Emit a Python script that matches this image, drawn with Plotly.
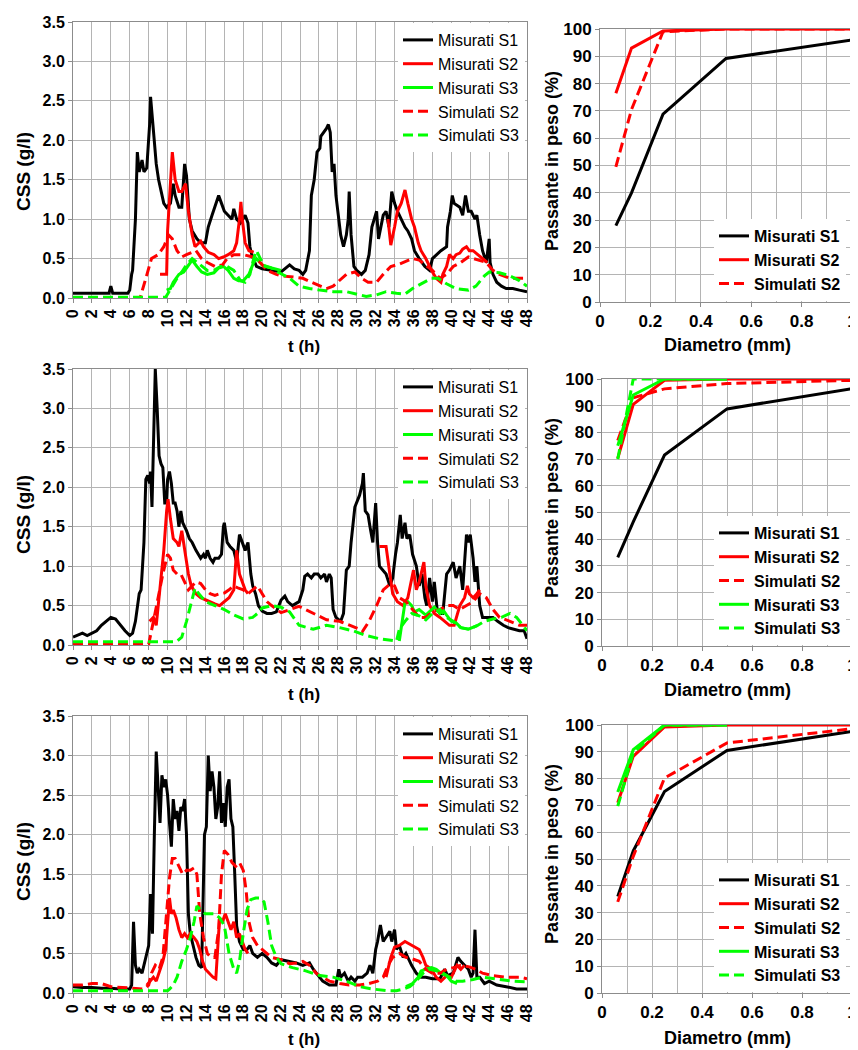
import plotly.graph_objects as go

# ---------------- DATA ----------------
# Event 1 (top row): (t [h], CSS [g/l])
E1_MIS_S1 = [(0,0.06),(3.8,0.06),(4.0,0.15),(4.2,0.06),(5.8,0.06),(6.0,0.1),(6.2,0.3),(6.3,0.35),(6.6,1.0),(6.8,1.85),(7.0,1.6),(7.3,1.75),(7.5,1.6),(7.8,1.65),(8.1,2.2),(8.2,2.55),(8.45,2.2),(8.6,2.0),(8.8,1.7),(9.05,1.5),(9.4,1.3),(9.6,1.2),(9.9,1.15),(10.3,1.2),(10.6,1.45),(10.8,1.3),(11.2,1.15),(11.5,1.15),(11.8,1.7),(12.0,1.55),(12.3,1.0),(12.6,0.85),(13.1,0.75),(13.5,0.7),(14.0,0.7),(14.3,0.9),(14.7,1.05),(15.0,1.15),(15.4,1.3),(15.7,1.2),(16.0,1.1),(16.4,1.05),(16.8,1.0),(17.0,1.13),(17.3,1.0),(17.7,0.95),(18.2,1.05),(18.5,0.95),(18.7,0.65),(18.9,0.55),(19.2,0.45),(19.4,0.4),(20,0.37),(21,0.35),(22,0.33),(22.9,0.42),(23.4,0.37),(23.9,0.35),(24.3,0.3),(24.6,0.35),(25.0,0.6),(25.2,1.3),(25.5,1.5),(25.8,1.85),(26.1,1.9),(26.2,2.05),(26.5,2.1),(26.8,2.15),(27.0,2.2),(27.2,2.1),(27.4,1.6),(27.6,1.7),(27.8,1.3),(28.1,1.0),(28.3,0.8),(28.6,0.65),(28.9,0.8),(29.1,1.0),(29.2,1.35),(29.4,0.8),(29.7,0.4),(30.0,0.35),(30.5,0.3),(30.9,0.35),(31.3,0.55),(31.6,0.9),(32.1,1.1),(32.3,0.75),(32.6,0.95),(32.8,1.05),(33.1,1.1),(33.4,0.9),(33.7,1.35),(34.0,1.2),(34.3,1.1),(34.7,1.0),(35.1,0.9),(35.4,0.85),(35.8,0.75),(36.1,0.6),(36.6,0.5),(37.2,0.4),(37.7,0.35),(38.0,0.5),(38.4,0.55),(38.9,0.6),(39.5,0.65),(39.6,0.9),(39.9,1.1),(40.1,1.3),(40.3,1.2),(40.9,1.15),(41.2,1.05),(41.5,1.3),(41.8,1.1),(42.1,1.1),(42.5,1.0),(42.7,1.05),(43.0,0.8),(43.3,0.6),(43.7,0.45),(44.0,0.75),(44.1,0.45),(44.4,0.3),(44.8,0.2),(45.3,0.15),(45.8,0.12),(46.5,0.12),(47.2,0.1),(48,0.08)]
E1_MIS_S2 = [(9.2,0.3),(9.9,0.3),(10.0,0.85),(10.3,1.4),(10.5,1.85),(10.8,1.5),(11.2,1.35),(11.5,1.35),(11.9,1.45),(12.2,1.1),(12.6,0.8),(12.9,0.65),(13.5,0.72),(13.8,0.65),(14.3,0.58),(14.9,0.55),(15.4,0.5),(15.9,0.52),(16.4,0.55),(17.0,0.6),(17.3,0.7),(17.6,1.0),(17.75,1.22),(17.9,1.0),(18.2,0.7),(18.6,0.6),(19.1,0.58),(None,None),(33.3,1.0),(33.6,0.67),(34.0,0.9),(34.3,1.1),(34.7,1.2),(35.1,1.37),(35.4,1.2),(35.8,1.0),(36.1,0.9),(36.5,0.7),(36.8,0.6),(37.3,0.5),(37.9,0.35),(38.4,0.25),(38.9,0.2),(39.1,0.3),(39.5,0.4),(39.8,0.55),(40.2,0.5),(40.5,0.55),(40.9,0.57),(41.2,0.62),(41.6,0.65),(41.9,0.6),(42.3,0.6),(42.8,0.55),(43.3,0.5),(43.8,0.45)]
E1_MIS_S3 = [(9.9,0.1),(10.3,0.12),(10.6,0.2),(11.2,0.3),(11.7,0.33),(12.2,0.42),(12.6,0.48),(13.1,0.4),(13.6,0.33),(14.2,0.3),(14.9,0.32),(15.4,0.38),(15.9,0.4),(16.4,0.35),(17.0,0.25),(17.5,0.22),(18.0,0.22),(18.6,0.3),(19.1,0.45),(19.4,0.5),(20.0,0.42),(21.0,0.38),(22.0,0.35)]
E1_SIM_S2 = [(0,0.0),(7.1,0.0),(7.7,0.25),(8.3,0.5),(9.0,0.55),(9.6,0.65),(10.1,0.8),(10.5,0.75),(11.0,0.6),(11.5,0.52),(12.0,0.55),(12.5,0.58),(13.0,0.6),(13.6,0.5),(14.2,0.45),(15.0,0.4),(15.8,0.42),(16.3,0.5),(17.0,0.55),(18.0,0.55),(19.0,0.52),(19.8,0.45),(20.5,0.35),(21.5,0.3),(22,0.28),(23,0.27),(24.3,0.25),(25.2,0.2),(26.1,0.15),(26.8,0.12),(27.5,0.15),(28.2,0.22),(28.9,0.3),(29.8,0.33),(30.5,0.25),(31.2,0.2),(32.1,0.2),(32.8,0.3),(33.6,0.4),(34.5,0.43),(35.4,0.48),(35.9,0.5),(36.6,0.48),(37.3,0.42),(38.0,0.35),(38.8,0.25),(39.5,0.3),(40.2,0.4),(41.0,0.45),(41.8,0.52),(42.3,0.5),(43.0,0.47),(43.7,0.45),(44.4,0.35),(45.1,0.3),(46.2,0.25),(47.2,0.25),(48,0.25)]
E1_SIM_S3 = [(0,0.01),(9.8,0.01),(10.5,0.15),(11.0,0.25),(11.5,0.33),(12.0,0.42),(12.6,0.5),(13.1,0.45),(13.6,0.4),(14.2,0.35),(14.9,0.35),(15.6,0.4),(16.3,0.4),(17.0,0.35),(17.7,0.22),(18.2,0.2),(18.7,0.3),(19.1,0.5),(19.4,0.6),(19.8,0.5),(20.3,0.4),(21.0,0.38),(21.8,0.32),(22.9,0.25),(23.9,0.15),(25.0,0.12),(26.1,0.1),(27.5,0.08),(28.9,0.08),(29.9,0.05),(31.0,0.02),(32.1,0.04),(33.1,0.08),(34.2,0.06),(35.1,0.05),(35.9,0.12),(36.8,0.18),(37.9,0.25),(38.6,0.25),(39.5,0.18),(40.5,0.12),(41.8,0.1),(42.6,0.15),(43.5,0.28),(44.0,0.33),(45.1,0.32),(46.2,0.28),(47.2,0.22),(48,0.15)]

# Event 2 (middle row)
E2_MIS_S1 = [(0,0.1),(0.5,0.13),(1,0.15),(1.5,0.12),(2,0.15),(2.5,0.18),(3,0.25),(3.5,0.3),(4,0.35),(4.5,0.33),(5,0.25),(5.5,0.18),(6,0.12),(6.3,0.15),(6.6,0.3),(7,0.65),(7.2,0.7),(7.5,1.3),(7.7,2.1),(7.9,2.15),(8.1,2.05),(8.2,2.2),(8.35,1.75),(8.5,2.5),(8.7,3.5),(8.9,3.0),(9.1,2.4),(9.3,2.3),(9.5,2.25),(9.7,1.8),(9.9,1.8),(10.0,2.1),(10.2,2.2),(10.4,2.05),(10.6,1.8),(10.8,1.8),(11.0,1.7),(11.2,1.5),(11.4,1.7),(11.6,1.55),(11.8,1.5),(12.0,1.45),(12.3,1.35),(12.6,1.3),(13.0,1.2),(13.5,1.1),(13.8,1.15),(14.0,1.1),(14.2,1.2),(14.5,1.1),(14.8,1.05),(15.0,1.1),(15.4,1.1),(15.7,1.15),(15.9,1.5),(16.0,1.55),(16.3,1.3),(16.6,1.25),(17.0,1.2),(17.3,1.05),(17.6,1.4),(17.9,1.3),(18.2,1.2),(18.5,1.3),(18.8,0.9),(19.0,0.75),(19.3,0.65),(19.6,0.5),(20,0.43),(20.5,0.4),(21,0.4),(21.5,0.42),(22,0.57),(22.4,0.62),(22.7,0.55),(23.2,0.5),(23.9,0.55),(24.3,0.7),(24.5,0.87),(24.8,0.9),(25.2,0.85),(25.5,0.9),(25.9,0.9),(26.2,0.85),(26.6,0.9),(26.8,0.8),(27.1,0.9),(27.3,0.85),(27.5,0.45),(27.8,0.35),(28.3,0.3),(28.6,0.4),(28.9,0.95),(29.2,1.0),(29.4,1.3),(29.8,1.75),(30.3,1.9),(30.6,2.05),(30.7,2.18),(30.9,1.7),(31.2,1.65),(31.4,1.5),(31.7,1.3),(32.0,1.8),(32.2,1.3),(32.4,1.0),(32.8,0.95),(33.1,0.9),(33.5,0.75),(33.8,0.85),(34.1,1.15),(34.3,1.3),(34.6,1.65),(34.8,1.35),(35.1,1.55),(35.3,1.35),(35.6,1.4),(35.9,1.15),(36.3,1.0),(36.6,0.75),(36.9,0.9),(37.2,0.6),(37.4,0.5),(37.7,0.85),(38.0,0.55),(38.2,0.8),(38.5,0.45),(38.8,0.4),(39.1,0.4),(39.5,0.9),(39.8,0.95),(40.2,1.05),(40.5,0.85),(40.9,1.0),(41.2,0.7),(41.4,1.0),(41.6,1.4),(41.8,1.3),(42.0,1.4),(42.3,1.1),(42.5,0.8),(42.7,1.0),(43.0,0.5),(43.3,0.35),(43.9,0.35),(44.4,0.35),(44.9,0.3),(45.5,0.25),(46.0,0.22),(46.5,0.2),(47.2,0.18),(47.7,0.18),(48,0.08)]
E2_MIS_S2 = [(8.1,0.3),(8.5,0.35),(8.8,0.25),(9.0,0.5),(9.3,0.8),(9.6,1.2),(9.9,1.7),(10.05,1.85),(10.3,1.6),(10.6,1.35),(11.0,1.3),(11.2,1.25),(11.5,1.45),(11.8,1.2),(12.2,0.9),(12.5,0.75),(13,0.65),(13.5,0.6),(14,0.57),(14.5,0.55),(15,0.52),(15.5,0.5),(16,0.55),(16.5,0.6),(17.0,0.7),(17.3,1.2),(17.6,0.9),(17.9,0.8),(18.2,0.7),(18.5,0.65),(None,None),(32.4,1.25),(33.1,1.25),(33.5,0.9),(33.8,0.65),(34.3,0.55),(34.9,0.5),(35.4,0.6),(35.8,0.85),(36.0,0.95),(36.3,0.7),(36.6,0.8),(37.1,1.05),(37.3,0.75),(37.7,0.5),(38.2,0.4),(38.8,0.35),(39.3,0.3),(39.8,0.25),(40.3,0.25),(40.9,0.5),(41.4,0.6),(41.7,0.75),(41.9,0.65),(42.3,0.6),(42.7,0.65),(43.0,0.7)]
E2_MIS_S3 = [(34.5,0.05),(35.1,0.54),(35.4,0.55),(35.8,0.5),(36.1,0.42),(36.6,0.45),(37.3,0.38),(37.9,0.45),(38.2,0.48),(38.8,0.4),(39.1,0.45),(39.5,0.38),(40.0,0.3),(40.5,0.28),(41.0,0.22),(41.8,0.2),(42.3,0.22),(42.8,0.25)]
E2_SIM_S2 = [(0,0.01),(8.0,0.01),(8.5,0.3),(9.0,0.6),(9.5,0.9),(10.0,1.15),(10.3,1.1),(10.6,0.95),(11,0.9),(11.4,0.9),(11.8,0.8),(12.2,0.7),(12.6,0.75),(13,0.8),(13.5,0.78),(14,0.7),(14.5,0.65),(15,0.63),(15.5,0.65),(16,0.66),(16.5,0.7),(17,0.75),(17.5,0.72),(18,0.7),(18.5,0.65),(19,0.7),(19.5,0.75),(20,0.65),(20.5,0.55),(21,0.5),(22,0.41),(23.9,0.49),(25.4,0.4),(26.8,0.32),(28.2,0.3),(29.2,0.25),(30.3,0.2),(30.6,0.17),(31.3,0.3),(32.1,0.5),(32.8,0.7),(33.5,0.77),(34.0,0.75),(34.5,0.6),(35.2,0.55),(35.9,0.45),(36.6,0.35),(37.3,0.35),(38.0,0.42),(38.8,0.45),(39.5,0.5),(40.2,0.5),(40.9,0.45),(41.6,0.5),(42.3,0.55),(43.0,0.65),(43.7,0.6),(44.4,0.45),(45.1,0.35),(46.2,0.3),(47.2,0.25),(48,0.25)]
E2_SIM_S3 = [(0,0.04),(10.8,0.04),(11.0,0.05),(11.5,0.1),(12.0,0.3),(12.5,0.55),(12.9,0.72),(13.3,0.65),(14,0.55),(15,0.5),(16,0.45),(17,0.38),(18,0.33),(19,0.35),(19.5,0.4),(20,0.47),(21,0.5),(22,0.48),(22.9,0.42),(23.9,0.25),(25.4,0.2),(26.8,0.25),(28.2,0.22),(29.6,0.18),(31.0,0.12),(32.4,0.08),(33.8,0.06),(34.2,0.05),(34.5,0.2),(35.1,0.3),(35.8,0.4),(36.6,0.37),(37.3,0.32),(38.0,0.4),(38.8,0.45),(39.5,0.35),(40.2,0.3),(41.0,0.22),(41.9,0.2),(42.8,0.25),(43.5,0.3),(44.4,0.33),(45.3,0.35),(46.2,0.4),(46.9,0.35),(48,0.18)]

# Event 3 (bottom row)
E3_MIS_S1 = [(0,0.08),(1,0.07),(2,0.07),(3,0.06),(4,0.06),(5,0.05),(6,0.05),(6.2,0.1),(6.4,0.9),(6.6,0.35),(6.8,0.25),(7.0,0.3),(7.3,0.25),(7.6,0.4),(8.0,0.6),(8.2,1.25),(8.4,0.75),(8.6,2.0),(8.8,3.05),(9.0,2.6),(9.2,2.15),(9.4,2.75),(9.6,2.6),(9.8,2.7),(10.0,2.5),(10.2,2.15),(10.4,1.85),(10.6,2.45),(10.8,2.2),(11.0,2.3),(11.2,2.05),(11.4,2.35),(11.6,2.3),(11.8,2.45),(12.0,2.0),(12.2,1.0),(12.4,0.75),(12.7,0.6),(13,0.45),(13.3,0.35),(13.6,0.32),(13.9,2.0),(14.1,2.1),(14.3,3.0),(14.5,2.55),(14.7,2.8),(14.9,2.6),(15.1,2.2),(15.3,2.35),(15.5,2.8),(15.7,2.15),(15.9,2.4),(16.1,2.1),(16.3,2.6),(16.5,2.7),(16.7,2.2),(16.9,2.1),(17.1,1.5),(17.3,0.85),(17.6,0.65),(18,0.55),(18.4,0.55),(18.7,0.6),(19,0.5),(19.5,0.45),(20,0.5),(20.5,0.45),(21,0.38),(21.5,0.35),(22,0.42),(22.9,0.4),(23.6,0.38),(24.3,0.35),(25.0,0.38),(25.4,0.3),(25.9,0.22),(26.4,0.15),(27.1,0.1),(27.8,0.1),(28.1,0.3),(28.3,0.2),(28.7,0.25),(29.1,0.15),(29.4,0.2),(29.8,0.15),(30.1,0.2),(30.6,0.2),(31.1,0.25),(31.4,0.35),(31.7,0.25),(32.0,0.55),(32.2,0.65),(32.5,0.86),(32.8,0.65),(33.1,0.7),(33.5,0.78),(33.7,0.65),(34.0,0.8),(34.2,0.55),(34.5,0.6),(34.9,0.45),(35.2,0.5),(35.8,0.35),(36.3,0.25),(36.8,0.2),(37.3,0.2),(38.0,0.18),(38.8,0.18),(39.3,0.3),(39.6,0.22),(40.2,0.25),(40.7,0.45),(41.0,0.4),(41.4,0.35),(41.8,0.3),(42.1,0.2),(42.3,0.25),(42.5,0.8),(42.7,0.2),(43.0,0.2),(43.5,0.12),(44.0,0.15),(44.8,0.1),(45.8,0.08),(46.9,0.05),(48,0.05)]
E3_MIS_S2 = [(7.8,0.1),(8.2,0.15),(8.5,0.2),(8.8,0.15),(9.2,0.3),(9.5,0.4),(9.8,0.55),(10.0,0.85),(10.2,1.2),(10.4,1.0),(10.6,1.05),(10.9,0.95),(11.2,0.8),(11.5,0.7),(11.8,0.75),(12.1,0.7),(12.4,0.75),(12.8,0.7),(13.1,0.65),(13.4,0.55),(13.7,0.4),(14.0,0.3),(14.4,0.25),(14.8,0.2),(15.1,0.18),(15.3,0.6),(15.5,0.95),(15.8,0.9),(16.1,1.0),(16.4,0.9),(16.7,0.8),(17.0,0.9),(17.3,0.7),(17.6,0.75),(17.9,0.65),(18.2,0.55),(18.5,0.5),(None,None),(33.1,0.2),(33.6,0.45),(34.0,0.58),(34.5,0.6),(35.1,0.65),(35.6,0.62),(36.1,0.58),(36.6,0.55),(37.0,0.45),(37.3,0.35),(37.9,0.3),(38.4,0.2),(38.9,0.15),(39.5,0.22),(40.0,0.2),(40.6,0.35),(41.0,0.3),(41.4,0.35)]
E3_MIS_S3 = [(35.2,0.08),(35.9,0.12),(36.5,0.2),(36.8,0.28),(37.3,0.3),(37.9,0.32),(38.4,0.3),(38.9,0.25),(39.5,0.22),(40.0,0.15),(40.6,0.12)]
E3_SIM_S2 = [(0,0.1),(1,0.1),(2,0.12),(3,0.12),(4,0.08),(5,0.07),(6,0.06),(7,0.05),(7.5,0.05),(8,0.1),(8.3,0.25),(8.7,0.35),(9.1,0.3),(9.5,0.45),(9.9,1.0),(10.2,1.45),(10.5,1.7),(10.8,1.7),(11.2,1.6),(11.6,1.5),(12,1.55),(12.4,1.55),(12.8,1.58),(13.1,1.5),(13.4,1.0),(13.8,0.7),(14.2,0.5),(14.6,0.45),(15.0,0.45),(15.4,0.8),(15.7,1.5),(16.0,1.8),(16.4,1.75),(16.8,1.65),(17.2,1.6),(17.6,1.65),(18.0,1.55),(18.3,1.3),(18.6,0.9),(19,0.7),(19.5,0.6),(20,0.55),(21,0.45),(22,0.42),(22.9,0.37),(23.6,0.38),(24.3,0.4),(25.0,0.35),(25.7,0.25),(26.4,0.2),(27.1,0.15),(28.2,0.12),(29.2,0.1),(30.3,0.1),(31.3,0.12),(32.2,0.15),(32.8,0.2),(33.3,0.35),(33.8,0.45),(34.5,0.5),(35.2,0.45),(35.9,0.43),(36.6,0.4),(37.3,0.3),(38.0,0.25),(38.8,0.25),(39.5,0.3),(40.2,0.32),(41.0,0.35),(41.9,0.33),(42.6,0.3),(43.3,0.25),(44.4,0.22),(45.8,0.2),(47.2,0.2),(48,0.18)]
E3_SIM_S3 = [(0,0.03),(10.0,0.03),(10.2,0.05),(10.6,0.1),(11,0.2),(11.5,0.4),(12.0,0.55),(12.4,0.7),(12.8,0.9),(13.1,1.1),(13.5,1.05),(14,1.0),(14.5,1.0),(15,1.0),(15.5,0.95),(16,0.85),(16.5,0.5),(17,0.3),(17.3,0.25),(17.6,0.4),(18,0.75),(18.4,1.05),(18.8,1.18),(19.3,1.2),(19.8,1.2),(20.2,1.15),(20.6,0.9),(21,0.6),(21.5,0.45),(22,0.37),(23.2,0.32),(24.6,0.28),(26.1,0.22),(27.5,0.2),(28.9,0.15),(30.3,0.08),(31.7,0.05),(33.1,0.03),(34.2,0.03),(34.9,0.05),(35.6,0.08),(36.3,0.15),(37.0,0.25),(37.7,0.3),(38.4,0.28),(39.1,0.25),(39.8,0.2),(40.5,0.15),(41.2,0.15),(42.3,0.17),(43.3,0.2),(44.8,0.18),(46.5,0.15),(48,0.14)]

# Grain size curves: diameter (mm) and passing (%)
DIAM = [0.063, 0.125, 0.25, 0.5, 1.0]
G1_MIS_S1 = [28, 40, 68.8, 89.2, 96]
G1_MIS_S2 = [76.5, 93, 99.3, 100, 100]
G1_SIM_S2 = [49.5, 70.5, 99, 100, 100]

G2_MIS_S1 = [33.2, 46.5, 71.5, 88.8, 96.4]
G2_MIS_S2 = [70.3, 90.5, 99.5, 100, 100]
G2_SIM_S2 = [77, 93, 96.3, 98.3, 99.5]
G2_MIS_S3 = [75, 94, 100, 100]
G2_SIM_S3 = [70, 100, 100, 100]

G3_MIS_S1 = [36, 53, 75.2, 90.5, 97.6]
G3_MIS_S2 = [71, 88.3, 99.3, 100, 100]
G3_SIM_S2 = [34, 51, 80.2, 93.3, 98.6]
G3_MIS_S3 = [75, 90.8, 100, 100]
G3_SIM_S3 = [69.7, 89.6, 100, 100]

T_TICKS = list(range(0, 49, 2))

# ---------------- STYLE ----------------
# the page body adds an 8px offset; the figure is sized to fill the rest of the window
OFF = 8
W, H = 858 - OFF, 1050 - OFF
BLACK, RED, GREEN = "#000000", "#ff0000", "#00ff00"
GRID = "#b4b4b4"
AXC = "#8c8c8c"
FONT = "Liberation Sans"
DASH = "10px,5px"
LW = 3


def fx(p):
    # p: pixel position in the window screenshot
    return (p - OFF) / W


def fy(p):
    return 1 - (p - OFF) / H


def unzip(pairs):
    return [p[0] for p in pairs], [p[1] for p in pairs]


fig = go.Figure()

# pixel boxes of each panel in window pixels (left, right, top, bottom)
LEFT_BOX = [(73, 527, 22, 298), (73, 527, 369, 645), (73, 527, 716, 993)]
RIGHT_BOX = [(600, 852, 29, 302), (602, 852, 379, 646), (602, 852, 725, 993)]

events = [
    [("Misurati S1", E1_MIS_S1, BLACK, "solid"), ("Misurati S2", E1_MIS_S2, RED, "solid"),
     ("Misurati S3", E1_MIS_S3, GREEN, "solid"), ("Simulati S2", E1_SIM_S2, RED, DASH),
     ("Simulati S3", E1_SIM_S3, GREEN, DASH)],
    [("Misurati S1", E2_MIS_S1, BLACK, "solid"), ("Misurati S2", E2_MIS_S2, RED, "solid"),
     ("Misurati S3", E2_MIS_S3, GREEN, "solid"), ("Simulati S2", E2_SIM_S2, RED, DASH),
     ("Simulati S3", E2_SIM_S3, GREEN, DASH)],
    [("Misurati S1", E3_MIS_S1, BLACK, "solid"), ("Misurati S2", E3_MIS_S2, RED, "solid"),
     ("Misurati S3", E3_MIS_S3, GREEN, "solid"), ("Simulati S2", E3_SIM_S2, RED, DASH),
     ("Simulati S3", E3_SIM_S3, GREEN, DASH)],
]

grains = [
    [("Misurati S1", G1_MIS_S1, BLACK, "solid"), ("Misurati S2", G1_MIS_S2, RED, "solid"),
     ("Simulati S2", G1_SIM_S2, RED, DASH)],
    [("Misurati S1", G2_MIS_S1, BLACK, "solid"), ("Misurati S2", G2_MIS_S2, RED, "solid"),
     ("Simulati S2", G2_SIM_S2, RED, DASH), ("Misurati S3", G2_MIS_S3, GREEN, "solid"),
     ("Simulati S3", G2_SIM_S3, GREEN, DASH)],
    [("Misurati S1", G3_MIS_S1, BLACK, "solid"), ("Misurati S2", G3_MIS_S2, RED, "solid"),
     ("Simulati S2", G3_SIM_S2, RED, DASH), ("Misurati S3", G3_MIS_S3, GREEN, "solid"),
     ("Simulati S3", G3_SIM_S3, GREEN, DASH)],
]

layout = dict(
    width=W, height=H, margin=dict(l=0, r=0, t=0, b=0, autoexpand=False),
    paper_bgcolor="white", plot_bgcolor="white",
    font=dict(family=FONT, color="black"),
    showlegend=True, annotations=[],
)

tick_font_l = dict(family=FONT, size=16, color="black", weight="bold")
tick_font_r = dict(family=FONT, size=17, color="black", weight="bold")
title_font = dict(family=FONT, size=18, color="black", weight="bold")

legend_right_bottom = [301, 645, 992]

for r in range(3):
    nl = 2 * r + 1
    nr = 2 * r + 2
    xl = "x" if nl == 1 else f"x{nl}"
    yl = "y" if nl == 1 else f"y{nl}"
    xr, yr = f"x{nr}", f"y{nr}"
    leg_l = "legend" if nl == 1 else f"legend{nl}"
    leg_r = f"legend{nr}"

    for name, pairs, col, dash in events[r]:
        t, v = unzip(pairs)
        fig.add_trace(go.Scatter(x=t, y=v, mode="lines", name=name, xaxis=xl, yaxis=yl,
                                 legend=leg_l, connectgaps=False,
                                 line=dict(color=col, width=LW, dash=dash)))
    for name, vals, col, dash in grains[r]:
        fig.add_trace(go.Scatter(x=DIAM[:len(vals)], y=vals, mode="lines", name=name,
                                 xaxis=xr, yaxis=yr, legend=leg_r,
                                 line=dict(color=col, width=LW, dash=dash)))

    L, R, T, B = LEFT_BOX[r]
    axl = "xaxis" if nl == 1 else f"xaxis{nl}"
    ayl = "yaxis" if nl == 1 else f"yaxis{nl}"
    common = dict(showgrid=True, gridcolor=GRID, gridwidth=1, showline=True, linecolor=AXC,
                  linewidth=1, mirror=True, ticks="outside", ticklen=4, tickcolor=AXC,
                  zeroline=False, fixedrange=True, automargin=False,
                  ticklabeloverflow="allow")
    layout[axl] = dict(common, domain=[fx(L), fx(R)], anchor=yl, range=[0, 48],
                       tickmode="array", tickvals=T_TICKS, tickangle=-90, tickfont=tick_font_l)
    layout[ayl] = dict(common, domain=[fy(B), fy(T)], anchor=xl, range=[0, 3.5], dtick=0.5,
                       tickformat=".1f", tickfont=tick_font_l)
    layout[leg_l] = dict(x=fx(R - 2), xanchor="right", y=fy(T + 1), yanchor="top",
                         bgcolor="white", borderwidth=0, traceorder="normal",
                         font=dict(family=FONT, size=16, color="black"),
                         itemwidth=30, tracegroupgap=0)

    L2, R2, T2, B2 = RIGHT_BOX[r]
    layout[f"xaxis{nr}"] = dict(common, domain=[fx(L2), fx(R2)], anchor=yr, range=[0, 1],
                                dtick=0.2, tickfont=tick_font_r,
                                minor=dict(dtick=0.1, showgrid=True, gridcolor=GRID))
    layout[f"yaxis{nr}"] = dict(common, domain=[fy(B2), fy(T2)], anchor=xr, range=[0, 100],
                                dtick=10, tickfont=tick_font_r)
    layout[leg_r] = dict(x=fx(R2 - 6), xanchor="right", y=fy(legend_right_bottom[r]),
                         yanchor="bottom", bgcolor="white", borderwidth=0,
                         traceorder="normal",
                         font=dict(family=FONT, size=16, color="black", weight="bold"),
                         itemwidth=30, tracegroupgap=0)

# axis titles as annotations (window pixel positions)
css_y = [172, 515, 862]
th_y = [346, 694, 1039]
pas_y = [161, 508, 854]
dia_y = [345, 690, 1038]
for r in range(3):
    layout["annotations"] += [
        dict(text="CSS (g/l)", x=fx(23), y=fy(css_y[r]), xref="paper", yref="paper",
             showarrow=False, textangle=-90, font=dict(title_font, size=19),
             xanchor="center", yanchor="middle"),
        dict(text="t (h)", x=fx(304), y=fy(th_y[r]), xref="paper", yref="paper",
             showarrow=False, font=dict(title_font, size=17), xanchor="center", yanchor="middle"),
        dict(text="Passante in peso (%)", x=fx(552), y=fy(pas_y[r]), xref="paper", yref="paper",
             showarrow=False, textangle=-90, font=title_font, xanchor="center", yanchor="middle"),
        dict(text="Diametro (mm)", x=fx(727), y=fy(dia_y[r]), xref="paper", yref="paper",
             showarrow=False, font=title_font, xanchor="center", yanchor="middle"),
    ]

fig.update_layout(**layout)
fig.write_html("out.html")
